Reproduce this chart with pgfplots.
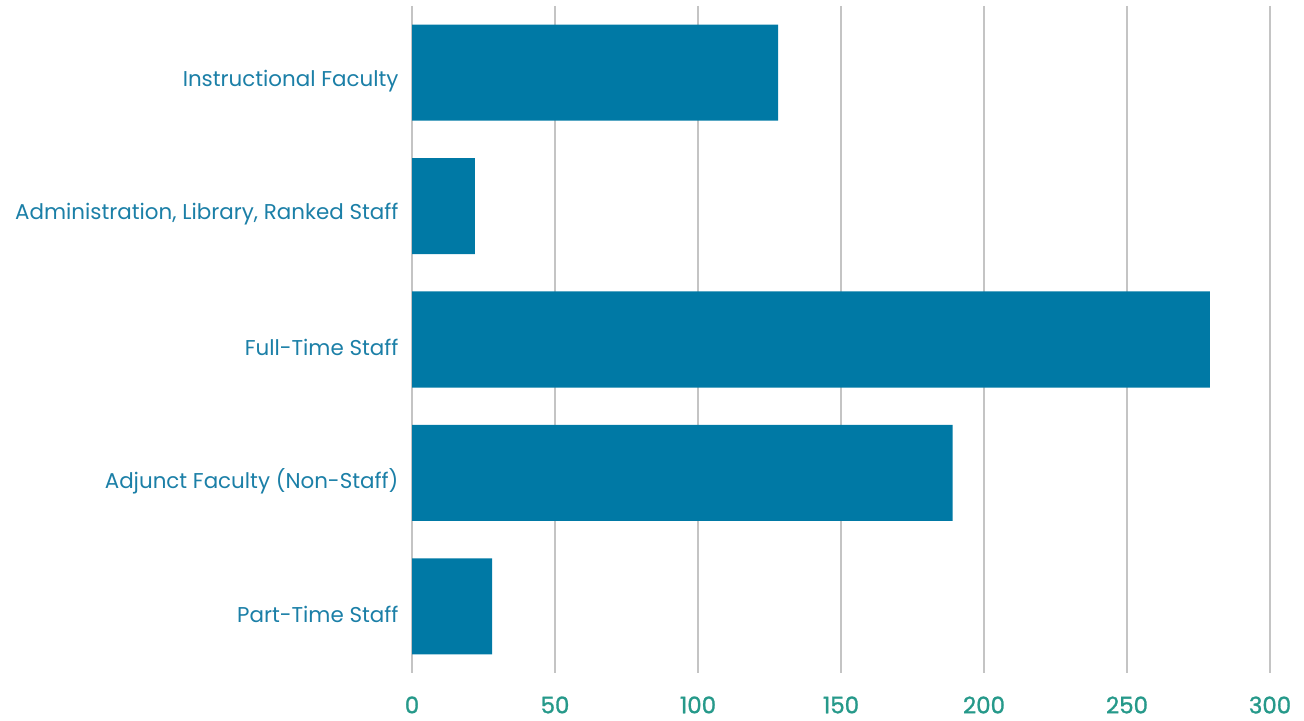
\documentclass[border=0pt]{standalone}
\usepackage{pgfplots}
\pgfplotsset{compat=1.18}
\usepackage{fontspec}
\setmainfont{Poppins}
\newfontfamily\tickfont{Poppins}[FakeBold=1.2]
\definecolor{barc}{HTML}{0079A5}
\definecolor{labc}{HTML}{1B7FA7}
\definecolor{tickc}{HTML}{26998A}
\definecolor{gridc}{HTML}{C4C4C4}
\begin{document}
\begin{tikzpicture}[x=1bp,y=1bp]
\useasboundingbox (0,0) rectangle (1304,720);
\begin{axis}[
  at={(412bp,47bp)}, anchor=south west,
  scale only axis, width=858bp, height=667bp,
  xmin=0, xmax=300, ymin=-0.5, ymax=4.5,
  y dir=reverse,
  xbar, bar width=0.72,
  ytick={0,1,2,3,4},
  yticklabels={Instructional Faculty, {Administration, Library, Ranked Staff}, Full-Time Staff, Adjunct Faculty (Non-Staff), Part-Time Staff},
  xtick={0,50,100,150,200,250,300},
  /pgf/number format/assume math mode=true,
  xticklabel style={font=\tickfont\fontsize{23}{25}\selectfont, text=tickc, yshift=-20bp},
  yticklabel style={font=\fontsize{21.5}{24}\selectfont, text=labc, xshift=-10bp, yshift=-8bp},
  axis line style={draw=none},
  major tick length=0pt,
  xmajorgrids, grid style={gridc, line width=2.5bp},
]
\addplot[fill=barc, draw=none] coordinates {(128,0) (22,1) (279,2) (189,3) (28,4)};
\end{axis}
\end{tikzpicture}
\end{document}
